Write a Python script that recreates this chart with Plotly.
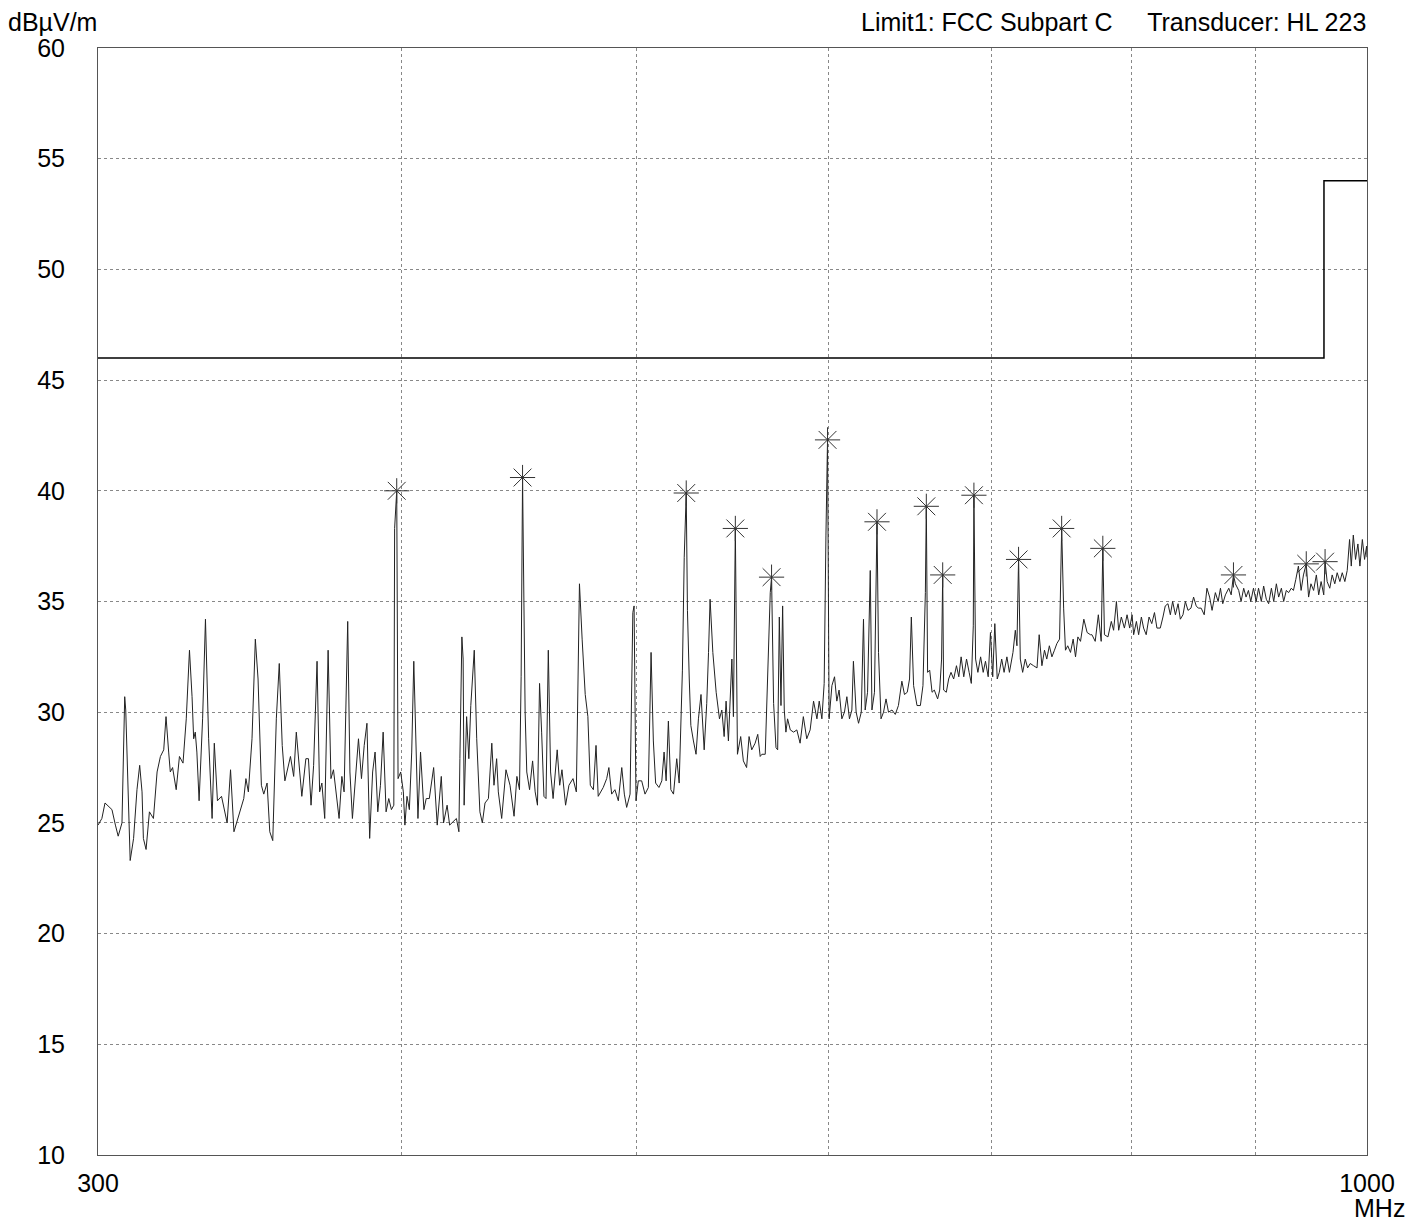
import plotly.graph_objects as go

# ---- data ----
freq_mhz = [
    300.0, 301.1, 302.0, 304.0, 305.0, 305.8, 306.9, 307.7, 308.0, 308.8,
    309.3, 310.3, 311.3, 312.1, 312.8, 313.2, 314.0, 315.0, 316.2, 317.3,
    318.3, 319.3, 320.0, 320.8, 321.3, 322.0, 323.1, 324.1, 325.2, 326.2,
    327.2, 328.0, 328.5, 329.0, 329.5, 330.2, 331.3, 332.2, 333.2, 334.3,
    335.0, 336.0, 337.3, 339.1, 340.2, 341.3, 342.9, 344.5, 345.2, 346.0,
    347.2, 348.3, 349.2, 350.3, 351.1,
    352.2, 353.1, 354.1, 355.3, 356.3, 357.3, 358.2, 360.1, 361.2, 362.1,
    363.2, 364.0, 365.4, 366.3, 367.2, 368.1, 369.3, 370.2, 371.0, 372.0,
    373.2, 374.2, 375.1, 377.1, 378.1, 378.9, 380.2, 381.0, 381.9, 383.1,
    384.1, 385.2, 386.2, 387.2, 388.2, 389.3, 390.2, 391.2, 392.2, 393.2,
    394.3, 395.3, 396.3, 397.2, 397.5, 398.3, 398.8, 399.8, 400.8, 401.4,
    402.2, 403.1, 404.0, 404.8, 405.7, 406.4, 407.4, 408.7, 409.6,
    410.8, 412.5, 413.9, 415.5, 416.4, 417.8, 418.8, 421.5, 422.5, 422.9,
    423.7, 424.2, 424.6, 425.6, 426.5, 427.3, 428.7, 429.7, 431.0, 432.0,
    433.1, 434.5, 435.9, 436.8, 437.9, 438.6, 440.0, 441.8, 443.5, 445.2,
    446.4, 447.5, 448.2, 448.8, 449.9, 450.6, 451.8, 453.1, 454.2, 455.2,
    456.1, 457.0, 458.0, 458.9, 459.9, 460.9, 462.0, 463.8, 464.9, 465.9,
    467.5, 469.0, 470.8, 472.3, 473.0, 473.7, 474.9, 476.3, 477.5, 478.6,
    480.0, 481.2,
    482.2, 484.5, 486.1, 487.1, 488.4, 489.9, 491.5, 493.1, 494.3, 495.4,
    497.0, 498.3, 498.9, 499.8, 500.9, 502.5, 504.1, 505.7, 507.0, 508.1,
    509.2, 510.8, 512.2, 513.3, 514.3, 515.4, 516.6, 517.9, 519.5, 520.7,
    522.3, 523.2, 524.2, 524.8, 525.7, 526.5, 527.8, 529.1, 530.3, 531.6,
    533.2, 534.5, 535.4, 536.2, 537.6, 539.3, 541.0, 542.2, 543.4, 544.4,
    545.6, 547.4, 548.2, 549.2, 550.3, 552.0, 553.4, 555.1, 556.4, 557.8,
    559.6, 561.0, 562.3,
    563.2, 565.0, 566.4, 567.7, 568.4, 569.5, 570.8, 571.7, 572.6, 573.5,
    574.4, 575.3, 576.2, 577.1, 578.6, 580.4, 582.2, 584.0, 585.8, 587.7,
    589.6, 591.5, 593.4, 594.7, 596.2, 597.5, 598.5, 599.4, 600.3, 601.9,
    603.4, 604.7, 606.0, 607.6, 609.1, 610.5, 612.0, 613.4, 614.3, 615.9,
    617.3, 618.9, 620.2, 621.2, 622.6, 624.2, 625.2, 626.7, 628.2, 629.1,
    630.6, 632.1, 633.6, 635.1, 637.2, 639.2, 641.1, 643.2, 644.8, 646.5,
    647.9, 649.0, 650.4, 652.5, 654.6, 656.2, 657.7, 658.3, 659.1, 660.4,
    661.9, 663.3, 665.4, 666.7, 667.9, 668.6, 669.2, 670.9, 672.4, 673.9,
    675.6, 677.4, 678.9, 680.4, 682.1, 683.9, 685.6, 687.0, 688.3, 688.7,
    689.8, 691.3, 693.1, 694.8, 696.3, 698.1, 699.6, 701.1, 702.5, 704.1,
    705.5, 707.1, 708.7, 710.6, 712.3, 714.7, 716.3, 717.4, 718.5, 719.7,
    721.3, 723.1, 724.7, 726.5, 728.8, 731.2, 732.7, 734.6, 736.4, 738.0,
    739.8, 741.6, 743.4, 745.1, 747.0, 748.5, 749.9, 751.2, 752.8, 754.8,
    756.7, 758.4, 760.1, 762.0, 764.4, 766.8, 769.2,
    770.3, 772.7, 775.0, 777.1, 778.3, 779.5, 782.1, 784.6, 786.3, 788.4,
    790.1, 792.1, 794.4, 796.4, 798.4, 800.2, 801.4, 803.5, 805.2, 807.3,
    809.0, 811.0, 813.2, 815.3, 817.4, 819.3, 821.9, 824.0, 825.8, 827.9,
    829.8, 831.6, 833.8, 835.9, 837.7, 839.8, 841.7, 843.8, 846.2, 848.3,
    850.4, 852.1, 854.4, 856.9, 859.1, 861.3, 863.3, 866.0, 868.3, 870.2,
    872.1, 874.3, 877.1, 879.1, 881.0, 882.6,
    885.4, 887.4, 889.6, 891.6, 893.6, 895.6, 897.9, 900.2, 902.2, 904.6,
    906.6, 908.9, 910.9, 913.3, 915.3, 917.6, 919.6, 922.0, 924.0, 926.3,
    928.3, 930.7, 932.6, 934.7, 937.0, 939.4, 941.5, 944.0, 946.1, 948.2,
    950.6, 953.1, 955.2, 957.4, 959.8, 961.0, 962.9, 965.3, 967.5, 969.9,
    972.1, 974.6, 976.8, 979.2, 981.4, 983.6, 985.2, 987.1, 989.2, 991.4,
    993.3, 995.6, 997.7, 999.6, 1000.0,
]

level_dbuv = [
    24.9, 25.2, 25.9, 25.6, 24.9, 24.4, 25.0, 30.7, 30.1, 25.5,
    23.3, 24.3, 26.5, 27.6, 26.4, 24.3, 23.8, 25.5, 25.2, 27.3,
    28.0, 28.3, 29.8, 28.2, 27.3, 27.5, 26.5, 28.0, 27.7, 29.7,
    32.8, 30.7, 28.8, 29.1, 28.2, 26.0, 29.7, 34.2, 28.8, 25.2,
    28.6, 26.0, 26.2, 25.0, 27.4, 24.6, 25.3, 26.1, 27.0, 26.4,
    28.8, 33.3, 31.5, 26.7, 26.3,
    26.8, 24.6, 24.2, 29.7, 32.2, 28.5, 26.9, 28.0, 27.1, 29.1,
    27.5, 26.2, 27.9, 27.9, 25.8, 27.6, 32.3, 26.4, 26.8, 25.2,
    32.8, 27.0, 27.4, 25.2, 27.1, 26.4, 34.1, 27.3, 25.2, 27.4,
    28.8, 27.0, 28.5, 29.5, 24.3, 27.3, 28.2, 25.5, 26.7, 29.1,
    25.5, 26.1, 25.6, 25.8, 38.3, 40.0, 27.0, 27.3, 26.4, 24.9,
    26.2, 25.6, 28.2, 32.3, 27.6, 25.2, 28.2, 25.6, 26.1,
    26.1, 27.5, 24.9, 27.1, 25.0, 25.8, 24.9, 25.2, 24.6, 27.9,
    33.4, 32.4, 25.8, 29.8, 27.9, 30.3, 32.8, 28.8, 25.5, 25.0,
    25.9, 26.1, 28.6, 26.7, 27.9, 26.4, 25.2, 27.4, 26.7, 25.3,
    27.1, 26.5, 31.6, 40.6, 30.0, 27.3, 26.5, 27.8, 26.4, 25.8,
    31.3, 29.1, 26.2, 26.1, 32.8, 27.3, 26.1, 28.3, 26.7, 27.4,
    25.8, 26.7, 27.0, 26.4, 30.3, 35.8, 33.3, 30.8, 29.8, 26.7,
    26.5, 28.5,
    26.2, 26.6, 27.0, 27.5, 26.3, 26.5, 26.0, 27.5, 26.3, 25.7,
    26.3, 34.5, 34.8, 26.0, 26.9, 26.9, 26.3, 26.6, 32.7, 28.7,
    26.8, 26.6, 26.9, 28.2, 26.9, 29.6, 26.5, 26.3, 27.9, 26.8,
    31.9, 37.0, 39.9, 34.6, 31.5, 29.4, 28.7, 28.1, 29.7, 30.8,
    28.3, 30.4, 32.7, 35.1, 32.7, 30.9, 29.7, 30.1, 28.9, 30.5,
    28.7, 32.4, 29.8, 38.3, 28.1, 28.9, 27.8, 27.5, 28.9, 28.3,
    28.6, 29.0, 28.0,
    28.1, 28.1, 31.5, 35.4, 36.1, 30.4, 28.4, 28.3, 34.3, 30.3,
    34.8, 30.1, 29.1, 29.7, 29.2, 29.1, 29.2, 28.6, 29.8, 28.8,
    29.2, 30.5, 29.7, 30.5, 29.7, 31.3, 38.0, 42.3, 29.7, 31.2,
    31.6, 30.5, 31.0, 29.7, 30.0, 30.7, 29.7, 30.1, 32.3, 30.0,
    29.5, 30.0, 34.2, 30.1, 30.9, 36.4, 30.1, 30.9, 38.6, 32.7,
    29.7, 30.0, 30.6, 30.0, 30.1, 29.9, 30.3, 31.4, 30.8, 30.9,
    31.5, 34.3, 31.2, 30.3, 30.3, 31.2, 35.4, 39.3, 31.8, 31.9,
    30.9, 31.0, 30.6, 31.0, 32.4, 36.2, 31.0, 30.9, 31.5, 31.8,
    31.5, 32.1, 31.6, 32.5, 31.6, 32.4, 31.8, 31.3, 33.9, 39.8,
    32.4, 31.8, 32.5, 31.8, 32.3, 31.6, 33.6, 31.6, 34.0, 31.5,
    31.8, 32.4, 31.8, 32.5, 31.8, 32.7, 33.7, 33.0, 36.9, 32.4,
    31.8, 32.4, 32.0, 32.2, 32.1, 32.0, 33.5, 32.1, 32.8, 32.4,
    33.0, 32.5, 32.8, 33.1, 33.3, 38.3, 34.7, 32.8, 33.0, 32.7,
    33.3, 32.5, 33.4, 33.2, 34.2, 33.6, 33.5,
    33.5, 33.2, 34.4, 33.2, 37.4, 33.5, 33.4, 34.1, 33.7, 35.0,
    33.7, 34.3, 33.8, 34.4, 33.8, 34.4, 33.5, 34.1, 33.5, 34.3,
    33.8, 33.5, 34.3, 34.0, 34.5, 33.8, 33.8, 34.3, 34.8, 34.9,
    34.4, 35.0, 34.4, 34.9, 34.2, 34.4, 35.0, 34.6, 34.7, 35.2,
    34.8, 34.7, 34.7, 34.4, 35.6, 35.2, 34.6, 35.4, 35.0, 35.6,
    34.9, 35.3, 35.6, 35.3, 36.2, 35.8,
    35.5, 35.0, 35.6, 35.2, 35.5, 35.0, 35.6, 35.0, 35.6, 35.0,
    35.7, 35.1, 34.9, 35.6, 35.0, 35.8, 35.2, 35.6, 35.0, 35.5,
    35.4, 35.6, 35.5, 36.0, 36.6, 35.5, 36.2, 36.7, 35.2, 35.8,
    35.5, 36.2, 35.3, 35.9, 35.3, 36.8, 35.9, 35.6, 36.2, 35.8,
    36.3, 35.9, 36.3, 35.9, 36.4, 37.8, 36.6, 38.0, 36.9, 37.6,
    36.6, 37.8, 36.9, 37.5, 37.0,
]

marker_freq = [398.3, 448.8, 524.2, 549.2, 568.4, 599.4, 628.2, 658.3,
               668.6, 688.7, 718.5, 748.5, 778.3, 881.0, 944.0, 961.0]
marker_level = [40.0, 40.6, 39.9, 38.3, 36.1, 42.3, 38.6, 39.3,
                36.2, 39.8, 36.9, 38.3, 37.4, 36.2, 36.7, 36.8]

limit_freq = [300, 960, 960, 1000]
limit_level = [46, 46, 54, 54]

x_tickvals = [300, 400, 500, 600, 700, 800, 900, 1000]
x_ticktext = ["300", "", "", "", "", "", "", "1000"]
y_tickvals = [10, 15, 20, 25, 30, 35, 40, 45, 50, 55, 60]

assert len(freq_mhz) == len(level_dbuv)

FONT = "Liberation Sans, Arial, sans-serif"

fig = go.Figure()
fig.add_trace(go.Scatter(x=freq_mhz, y=level_dbuv, mode="lines",
                         line=dict(color="#222222", width=1),
                         showlegend=False, hoverinfo="skip"))
fig.add_trace(go.Scatter(x=limit_freq, y=limit_level, mode="lines",
                         line=dict(color="#000000", width=1.5, shape="linear"),
                         showlegend=False, hoverinfo="skip"))
fig.add_trace(go.Scatter(x=marker_freq, y=marker_level, mode="markers",
                         marker=dict(symbol="asterisk-open", size=21,
                                     color="#333333",
                                     line=dict(color="#333333", width=1)),
                         showlegend=False, hoverinfo="skip"))

axis_common = dict(showline=True, linecolor="#555555", linewidth=1, mirror=True,
                   showgrid=True, gridcolor="#888888", gridwidth=1, griddash="dot",
                   zeroline=False, ticks="",
                   tickfont=dict(family=FONT, size=25, color="#000000"))

fig.update_xaxes(type="log", range=[2.4771212547, 3.0],
                 tickmode="array", tickvals=x_tickvals, ticktext=x_ticktext,
                 ticklabelstandoff=6, **axis_common)
fig.update_yaxes(range=[10, 60], tickmode="array", tickvals=y_tickvals,
                 ticklabelstandoff=27, **axis_common)

# The page body has an 8 px margin; the figure is sized so the plot area
# lands where it does in the reference.
fig.update_layout(
    width=1407, height=1215,
    margin=dict(l=90, r=48, t=40, b=68, autoexpand=False),
    paper_bgcolor="#ffffff", plot_bgcolor="#ffffff",
    font=dict(family=FONT, size=25, color="#000000"),
    annotations=[
        dict(text="dBµV/m", xref="paper", yref="paper", x=0, y=1,
             xanchor="right", yanchor="bottom", yshift=11, borderpad=0,
             showarrow=False,
             font=dict(family=FONT, size=25, color="#000000")),
        dict(text="Limit1: FCC Subpart C&nbsp;&nbsp;&nbsp;&nbsp;&nbsp;Transducer: HL 223",
             xref="paper", yref="paper", x=1, y=1,
             xanchor="right", yanchor="bottom", yshift=11, borderpad=0,
             showarrow=False,
             font=dict(family=FONT, size=25, color="#000000")),
        dict(text="MHz", xref="paper", yref="paper", x=1, y=0,
             xanchor="center", yanchor="top", xshift=12, yshift=-38, borderpad=0,
             showarrow=False,
             font=dict(family=FONT, size=25, color="#000000")),
    ],
)

fig.write_html("out.html")
